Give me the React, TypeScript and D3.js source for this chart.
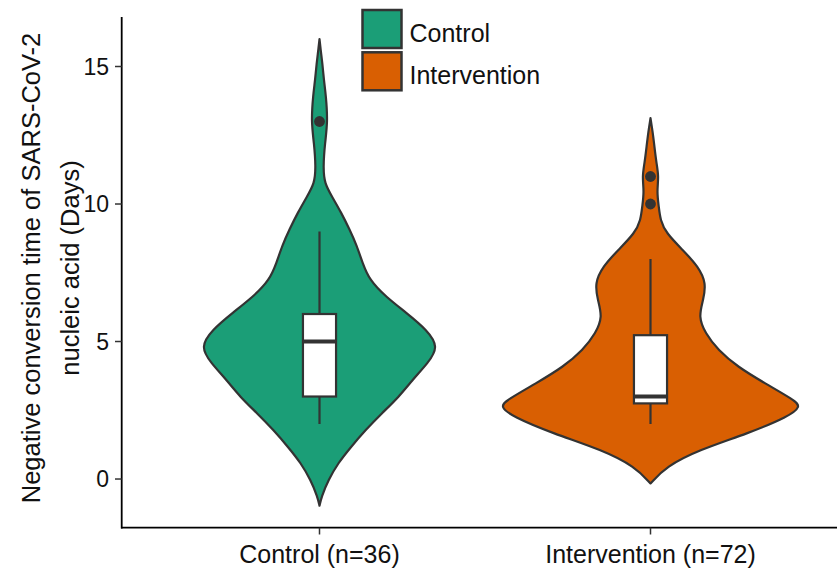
import React from "react";
import * as d3 from "d3";

// ---- data ----
const categories = ["Control (n=36)", "Intervention (n=72)"];
const legendLabels = ["Control", "Intervention"];
const fills = ["#1B9E77", "#D95F02"];
const yTicks = [0, 5, 10, 15];

// violin outlines: value levels and relative density (half-width)
const controlLevels = [-0.97, -0.65, -0.04, 0.58, 1.16, 1.78, 2.4, 2.98, 3.6, 4.22, 4.8, 5.42, 6.04, 6.62, 7.24, 7.86, 8.5, 9.06, 9.7, 10.26, 10.75, 11.35, 12.2, 13.0, 13.97, 14.5, 15.1, 15.6, 16.0];
const controlDensity = [0, 2, 9, 19, 32, 47, 64, 81, 95, 111, 122, 110, 89, 68, 51, 44, 38, 31, 22, 13, 5, 3.8, 5.5, 8.5, 6.5, 4.5, 3, 1.2, 0];
const interventionLevels = [-0.16, 0.45, 1.05, 1.66, 2.27, 2.63, 2.87, 3.48, 4.08, 4.69, 5.3, 5.9, 6.51, 7.12, 7.72, 8.33, 8.94, 9.42, 9.9, 10.45, 11.0, 11.5, 12.09, 12.6, 13.12];
const interventionDensity = [0, 16, 49, 100, 141, 154, 147, 117, 89, 69, 56, 49, 54, 57, 49, 33, 16, 10, 8.5, 6.5, 8.5, 6, 4, 2.3, 0];

// box plot statistics
const whiskerLow = [2, 2];
const q1 = [3, 2.75];
const median = [5, 3];
const q3 = [6, 5.23];
const whiskerHigh = [9, 8];
const outliers = [[13], [10, 11]];

const FONT = "'Liberation Sans', Arial, Helvetica, sans-serif";
const INK = "#333333";

export default function App() {
  const W = 837, H = 576;
  const x = d3.scalePoint<string>().domain(categories).range([319.5, 650.5]);
  const step = 331;
  const y = d3.scaleLinear().domain([-1.77, 16.8]).range([527.7, 17]);
  const maxD = d3.max([...controlDensity, ...interventionDensity]) as number;
  const w = d3.scaleLinear().domain([0, maxD]).range([0, 0.455 * step]);

  const violins = [
    { levels: controlLevels, dens: controlDensity },
    { levels: interventionLevels, dens: interventionDensity },
  ];

  const boxHalf = 0.05 * step;

  return (
    <svg width={W} height={H} style={{ position: "absolute", left: 0, top: 0, background: "#fff" }} fontFamily={FONT}>
      {violins.map((v, i) => {
        const cx = x(categories[i]) as number;
        const pts = v.levels.map((l, k) => ({ l, d: v.dens[k] }));
        const area = d3
          .area<{ l: number; d: number }>()
          .y((p) => y(p.l))
          .x0((p) => cx - w(p.d))
          .x1((p) => cx + w(p.d))
          .curve(d3.curveBasis);
        return <path key={"v" + i} d={area(pts) as string} fill={fills[i]} stroke={INK} strokeWidth={2.2} strokeLinejoin="round" />;
      })}
      {categories.map((c, i) => {
        const cx = x(c) as number;
        return (
          <g key={"b" + i}>
            <line x1={cx} x2={cx} y1={y(whiskerHigh[i])} y2={y(q3[i])} stroke={INK} strokeWidth={2.2} />
            <line x1={cx} x2={cx} y1={y(q1[i])} y2={y(whiskerLow[i])} stroke={INK} strokeWidth={2.2} />
            <rect x={cx - boxHalf} y={y(q3[i])} width={2 * boxHalf} height={y(q1[i]) - y(q3[i])} fill="#fff" stroke={INK} strokeWidth={2.2} />
            <line x1={cx - boxHalf} x2={cx + boxHalf} y1={y(median[i])} y2={y(median[i])} stroke={INK} strokeWidth={4.2} />
            {outliers[i].map((o, k) => (
              <circle key={k} cx={cx} cy={y(o)} r={5.4} fill={INK} />
            ))}
          </g>
        );
      })}
      {/* axes */}
      <line x1={121.7} x2={121.7} y1={y.range()[1]} y2={y.range()[0] + 0.8} stroke="#000" strokeWidth={1.8} />
      <line x1={121} x2={W} y1={527.7} y2={527.7} stroke="#000" strokeWidth={1.8} />
      {yTicks.map((t) => (
        <g key={"t" + t}>
          <line x1={115} x2={121.7} y1={y(t)} y2={y(t)} stroke="#333" strokeWidth={1.5} />
          <text x={109} y={y(t)} dy="0.36em" textAnchor="end" fontSize={23} fill="#111">{t}</text>
        </g>
      ))}
      {categories.map((c) => (
        <g key={"x" + c}>
          <line x1={x(c)} x2={x(c)} y1={527.7} y2={534.5} stroke="#333" strokeWidth={1.5} />
          <text x={x(c)} y={563} textAnchor="middle" fontSize={25} fill="#111">{c}</text>
        </g>
      ))}
      {/* y title */}
      <g transform="translate(40,268) rotate(-90)">
        <text x={0} y={0} textAnchor="middle" fontSize={25.5} fill="#111">Negative conversion time of SARS-CoV-2</text>
      </g>
      <g transform="translate(79,268) rotate(-90)">
        <text x={0} y={0} textAnchor="middle" fontSize={25.5} fill="#111">nucleic acid (Days)</text>
      </g>
      {/* legend */}
      {legendLabels.map((l, i) => (
        <g key={"l" + i} transform={`translate(362.5,${10 + i * 42.3})`}>
          <rect x={0} y={0} width={39} height={38} fill={fills[i]} stroke={INK} strokeWidth={2.5} />
          <text x={47} y={23} dy="0.36em" fontSize={25} fill="#111">{l}</text>
        </g>
      ))}
    </svg>
  );
}
